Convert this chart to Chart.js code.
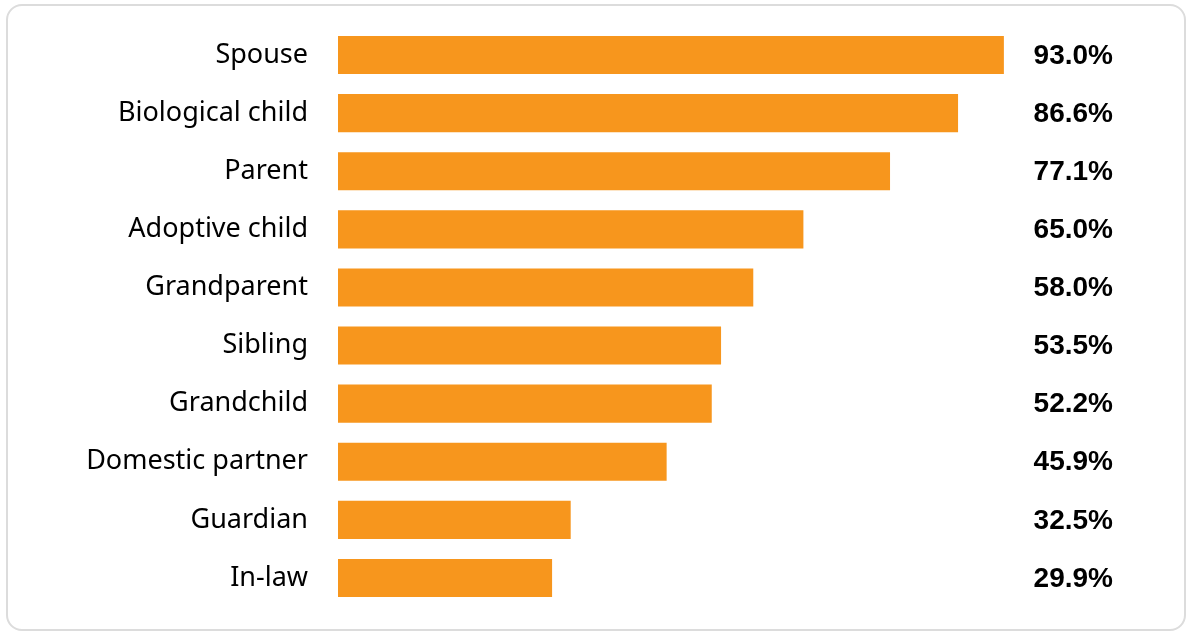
<!DOCTYPE html>
<html>
<head>
<meta charset="utf-8">
<script src="https://cdn.jsdelivr.net/npm/chart.js@4/dist/chart.umd.min.js"></script>
<style>
  html, body { margin: 0; padding: 0; background: #fff; }
  #wrap { position: relative; width: 1189px; height: 634px; overflow: hidden; }
  #card { position: absolute; left: 6px; top: 4px; width: 1180px; height: 627px;
          border: 2px solid #dcdcdc; border-radius: 16px; box-sizing: border-box; }
  #chart { position: absolute; left: 0; top: 0; }
</style>
</head>
<body>
<div id="wrap">
  <div id="card"></div>
  <canvas id="chart" width="1189" height="634"></canvas>
</div>
<script>
var relations = ['Spouse', 'Biological child', 'Parent', 'Adoptive child', 'Grandparent',
                 'Sibling', 'Grandchild', 'Domestic partner', 'Guardian', 'In-law'];
var shares = [93.0, 86.6, 77.1, 65.0, 58.0, 53.5, 52.2, 45.9, 32.5, 29.9];

// percentage text at a fixed column on the right
var valueLabels = {
    id: 'valueLabels',
    afterDatasetsDraw: function (chart) {
        var ctx = chart.ctx;
        var meta = chart.getDatasetMeta(0);
        ctx.save();
        ctx.font = 'bold 28px "Liberation Sans", Arial, sans-serif';
        ctx.fillStyle = '#000';
        ctx.textAlign = 'right';
        ctx.textBaseline = 'middle';
        meta.data.forEach(function (bar, i) {
            ctx.fillText(shares[i].toFixed(1) + '%', 1113, bar.y + 1);
        });
        ctx.restore();
    }
};

new Chart(document.getElementById('chart').getContext('2d'), {
    type: 'bar',
    data: {
        labels: relations,
        datasets: [{
            data: shares,
            backgroundColor: '#F7961D',
            borderWidth: 0,
            categoryPercentage: 1,
            barPercentage: 0.655
        }]
    },
    options: {
        indexAxis: 'y',
        responsive: false,
        animation: false,
        layout: { padding: { top: 26, bottom: 27, left: 0, right: 135 } },
        plugins: { legend: { display: false }, tooltip: { enabled: false } },
        scales: {
            x: { display: false, min: 0, max: 100 },
            y: {
                afterFit: function (s) { s.width = 338; },
                // invisible tick length keeps the gap between labels and bars
                grid: { display: false, drawTicks: true, tickLength: 30 },
                border: { display: false },
                ticks: {
                    padding: 0,
                    color: '#000',
                    font: { family: '"Noto Sans", sans-serif', size: 27 }
                }
            }
        }
    },
    plugins: [valueLabels]
});
</script>
</body>
</html>
